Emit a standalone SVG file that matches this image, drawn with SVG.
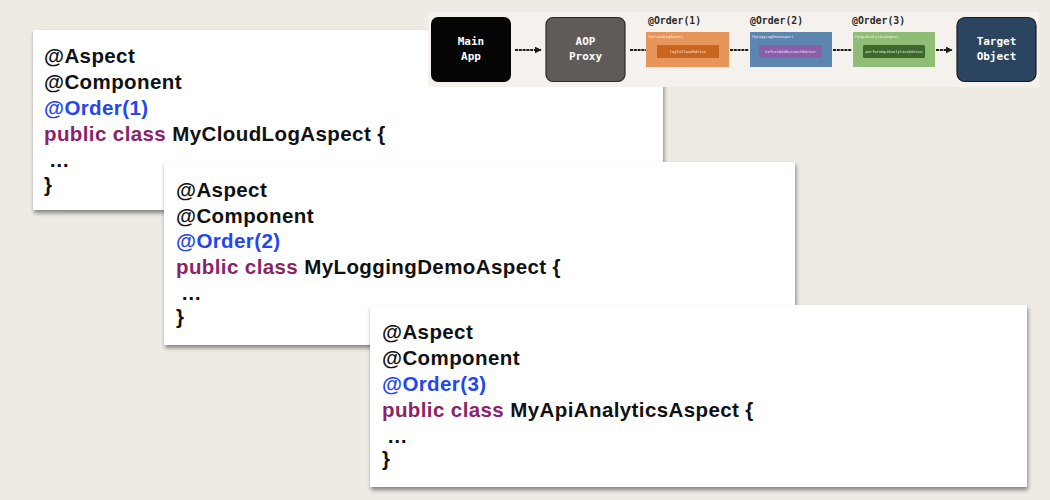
<svg xmlns="http://www.w3.org/2000/svg" width="1050" height="500" viewBox="0 0 1050 500">
<style>
.code{font-family:"Liberation Sans",Arial,sans-serif;font-weight:bold;font-size:20.5px;letter-spacing:0.4px;fill:#111}
.ord{fill:#2446f2}
.kw{fill:#8a2468}
.panel{fill:#ffffff}
.mono{font-family:"DejaVu Sans Mono","Liberation Mono",monospace;font-weight:bold;fill:#ffffff;font-size:11px;text-anchor:middle}
.olab{font-family:"DejaVu Sans Mono","Liberation Mono",monospace;font-weight:bold;fill:#2a2a2a;font-size:9.8px}
.tiny{font-family:"DejaVu Sans Mono","Liberation Mono",monospace;fill:#ffffff;font-size:3.6px;opacity:0.85}
.tinyc{font-family:"DejaVu Sans Mono","Liberation Mono",monospace;fill:#ffffff;font-size:3.8px;text-anchor:middle;opacity:0.85}
.conn{stroke:#1e1e1e;stroke-width:1.8;stroke-dasharray:3 0.8;fill:none}
</style>
<defs>
<filter id="sh" x="-5%" y="-10%" width="112%" height="125%">
<feGaussianBlur in="SourceAlpha" stdDeviation="2.2"/>
<feOffset dx="1" dy="3" result="b"/>
<feComponentTransfer><feFuncA type="linear" slope="0.45"/></feComponentTransfer>
<feMerge><feMergeNode/><feMergeNode in="SourceGraphic"/></feMerge>
</filter>
<marker id="ah" viewBox="0 0 10 10" refX="9" refY="5" markerWidth="7" markerHeight="7" orient="auto" markerUnits="userSpaceOnUse">
<path d="M0,0 L10,5 L0,10 z" fill="#1a1a1a"/>
</marker>
</defs>
<rect x="0" y="0" width="1050" height="500" fill="#eeeae4"/>

<g id="panel1">
<rect class="panel" x="33" y="30" width="630" height="180" filter="url(#sh)"/>
<text class="code" x="44" y="63">@Aspect</text>
<text class="code" x="44" y="89">@Component</text>
<text class="code ord" x="44" y="115">@Order(1)</text>
<text class="code" x="44" y="141"><tspan class="kw">public class</tspan> MyCloudLogAspect {</text>
<text class="code" x="49" y="167">…</text>
<text class="code" x="44" y="192">}</text>
</g>

<g id="flow-image">
<rect x="428" y="12" width="611" height="75" fill="#f5f2ed"/>
</g>

<g id="main-app">
<rect x="431" y="17" width="80" height="65" rx="7" fill="#050505"/>
<text class="mono" x="471" y="45">Main</text>
<text class="mono" x="471" y="60">App</text>
</g>
<g id="aop-proxy">
<rect x="546" y="17.5" width="79" height="64" rx="7" fill="#5e5b58" stroke="#2b2b2b" stroke-width="1.2"/>
<text class="mono" x="585.5" y="45">AOP</text>
<text class="mono" x="585.5" y="60">Proxy</text>
</g>
<g id="order1">
<text class="olab" x="648" y="24">@Order(1)</text>
<rect x="646" y="32" width="83" height="35" fill="#e8955b"/>
<text class="tiny" x="648.5" y="37.5">MyCloudLogAspect</text>
<rect x="657" y="45" width="62" height="13" fill="#c8651f"/>
<text class="tinyc" x="688" y="52.8">logToCloudAdvice</text>
</g>
<g id="order2">
<text class="olab" x="750" y="24">@Order(2)</text>
<rect x="750" y="32" width="82" height="35" fill="#5c85af"/>
<text class="tiny" x="752.5" y="37.5">MyLoggingDemoAspect</text>
<rect x="759" y="45" width="63" height="13" fill="#8a5ea8"/>
<text class="tinyc" x="790.5" y="52.8">beforeAddAccountAdvice</text>
</g>
<g id="order3">
<text class="olab" x="852" y="24">@Order(3)</text>
<rect x="853" y="32" width="82" height="35" fill="#8fbd76"/>
<text class="tiny" x="855.5" y="37.5">MyApiAnalyticsAspect</text>
<rect x="863" y="45" width="62" height="13" rx="1.5" fill="#3d6a2b"/>
<text class="tinyc" x="894" y="52.8">performApiAnalyticsAdvice</text>
</g>
<g id="target-object">
<rect x="957" y="17.5" width="79" height="64" rx="8" fill="#2b4561" stroke="#1b1b1b" stroke-width="1.2"/>
<text class="mono" x="996.5" y="45">Target</text>
<text class="mono" x="996.5" y="60">Object</text>
</g>

<g id="connectors">
<line class="conn" x1="515" y1="50" x2="541" y2="50" marker-end="url(#ah)"/>
<line class="conn" x1="630" y1="50" x2="646" y2="50"/>
<line class="conn" x1="730" y1="50" x2="749" y2="50"/>
<line class="conn" x1="833" y1="50" x2="852" y2="50"/>
<line class="conn" x1="936" y1="50" x2="952" y2="50" marker-end="url(#ah)"/>
</g>

<g id="panel2">
<rect class="panel" x="164" y="162" width="631" height="183" filter="url(#sh)"/>
<text class="code" x="176" y="197">@Aspect</text>
<text class="code" x="176" y="223">@Component</text>
<text class="code ord" x="176" y="248">@Order(2)</text>
<text class="code" x="176" y="274"><tspan class="kw">public class</tspan> MyLoggingDemoAspect {</text>
<text class="code" x="181" y="300">…</text>
<text class="code" x="176" y="324">}</text>
</g>

<g id="panel3">
<rect class="panel" x="370" y="305" width="657" height="182" filter="url(#sh)"/>
<text class="code" x="382" y="339">@Aspect</text>
<text class="code" x="382" y="365">@Component</text>
<text class="code ord" x="382" y="391">@Order(3)</text>
<text class="code" x="382" y="417"><tspan class="kw">public class</tspan> MyApiAnalyticsAspect {</text>
<text class="code" x="387" y="443">…</text>
<text class="code" x="382" y="466">}</text>
</g>
</svg>
